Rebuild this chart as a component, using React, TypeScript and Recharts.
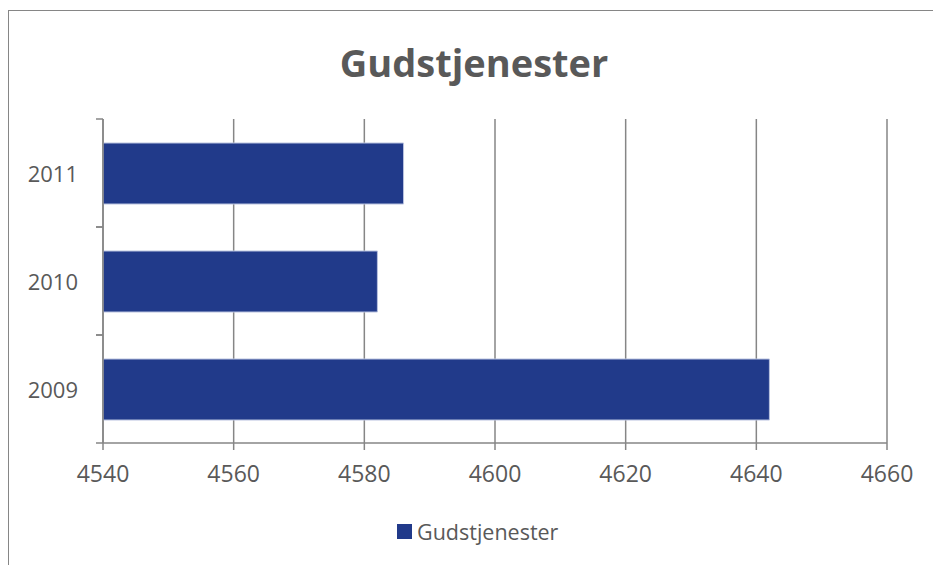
import React from "react";
import {
  BarChart,
  Bar,
  XAxis,
  YAxis,
  CartesianGrid,
} from "recharts";

const YEARS = ["2009", "2010", "2011"];
const SERVICES = [4642, 4582, 4586];
const X_TICKS = [4540, 4560, 4580, 4600, 4620, 4640, 4660];

const SERIES_NAME = "Gudstjenester";
const BAR_COLOR = "#213A8A";
const AXIS_GRAY = "#868686";
const TEXT_GRAY = "#595959";
const FONT = "'Open Sans', 'Noto Sans', sans-serif";

const data = YEARS.map((year, i) => ({ year, value: SERVICES[i] }));

function YearTick(props: any) {
  const { x, y, payload } = props;
  const half = payload && payload.offset ? payload.offset : 54;
  return (
    <g>
      <line x1={x - 7} x2={x} y1={y - half} y2={y - half} stroke={AXIS_GRAY} strokeWidth={1.5} />
      <line x1={x - 7} x2={x} y1={y + half} y2={y + half} stroke={AXIS_GRAY} strokeWidth={1.5} />
      <text
        x={x - 25}
        y={y}
        textAnchor="end"
        dominantBaseline="central"
        fill={TEXT_GRAY}
        fontSize={22}
        fontFamily={FONT}
      >
        {payload.value}
      </text>
    </g>
  );
}

export default function App() {
  return (
    <div
      style={{
        position: "fixed",
        left: 0,
        top: 0,
        width: 933,
        height: 565,
        overflow: "hidden",
        background: "#fff",
      }}
    >
      <div
        style={{
          position: "absolute",
          left: 8,
          top: 10,
          width: 1000,
          height: 600,
          border: `1.5px solid ${AXIS_GRAY}`,
        }}
      />
      <div
        style={{
          position: "absolute",
          left: 9,
          width: 930,
          top: 37,
          textAlign: "center",
          fontFamily: FONT,
          fontWeight: 700,
          fontSize: 38,
          color: TEXT_GRAY,
          lineHeight: "50px",
        }}
      >
        Gudstjenester
      </div>
      <div style={{ position: "absolute", left: 0, top: 0 }}>
        <BarChart
          width={933}
          height={565}
          data={data}
          layout="vertical"
          margin={{ top: 119, right: 46, bottom: 92, left: 23 }}
          barSize={61}
        >
          <CartesianGrid horizontal={false} vertical stroke={AXIS_GRAY} strokeWidth={1.5} />
          <XAxis
            type="number"
            domain={[4540, 4660]}
            ticks={X_TICKS}
            allowDataOverflow
            height={30}
            stroke={AXIS_GRAY}
            strokeWidth={1.5}
            tickSize={7}
            tickMargin={16}
            tick={{ fill: TEXT_GRAY, fontSize: 23, fontFamily: FONT }}
          />
          <YAxis
            type="category"
            dataKey="year"
            reversed
            width={80}
            stroke={AXIS_GRAY}
            strokeWidth={1.5}
            tickLine={false}
            tickSize={0}
            tickMargin={0}
            tick={<YearTick />}
          />
          <Bar
            dataKey="value"
            name={SERIES_NAME}
            fill={BAR_COLOR}
            stroke="#B9C2DF"
            strokeWidth={1}
            isAnimationActive={false}
          />
        </BarChart>
      </div>
      <div
        style={{
          position: "absolute",
          left: 397,
          top: 517,
          display: "flex",
          alignItems: "center",
          fontFamily: FONT,
          fontSize: 21.5,
          color: TEXT_GRAY,
        }}
      >
        <span
          style={{
            display: "inline-block",
            width: 15,
            height: 15,
            background: BAR_COLOR,
            marginRight: 5,
          }}
        />
        {SERIES_NAME}
      </div>
    </div>
  );
}
